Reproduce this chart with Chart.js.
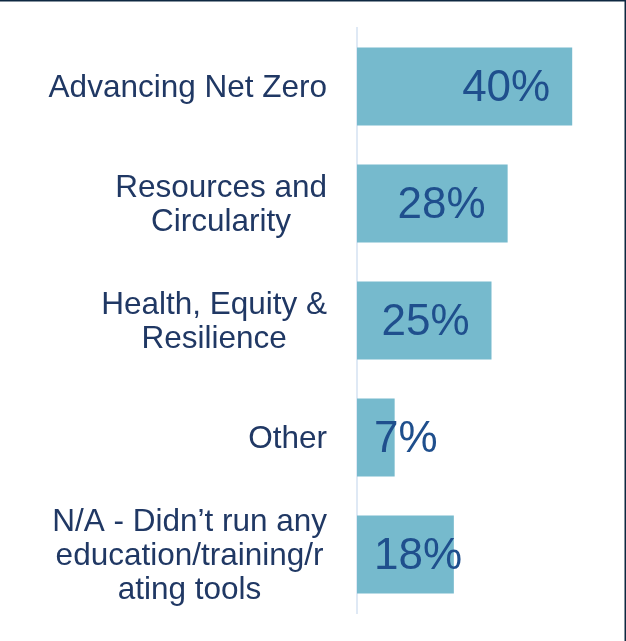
<!DOCTYPE html>
<html>
<head>
<meta charset="utf-8">
<script src="https://cdn.jsdelivr.net/npm/chart.js@4.4.1/dist/chart.umd.min.js"></script>
<style>
  html, body { margin: 0; padding: 0; background: #ffffff; }
  #wrap { position: relative; width: 626px; height: 641px; }
</style>
</head>
<body>
<div id="wrap"><canvas id="c" width="626" height="641"></canvas></div>
<script>
const categories = [
  ["Advancing Net Zero"],
  ["Resources and", "Circularity"],
  ["Health, Equity &", "Resilience"],
  ["Other"],
  ["N/A - Didn\u2019t run any", "education/training/r", "ating tools"]
];
const values = [40, 28, 25, 7, 18];
const valueLabels = ["40%", "28%", "25%", "7%", "18%"];

const FONT = "'Liberation Sans', Arial, sans-serif";

const valueLabelPlugin = {
  id: 'valueLabels',
  afterDatasetsDraw(chart) {
    const ctx = chart.ctx;
    const meta = chart.getDatasetMeta(0);
    ctx.save();
    ctx.font = "44px " + FONT;
    ctx.fillStyle = "#1F4F8D";
    ctx.textAlign = "left";
    ctx.textBaseline = "middle";
    meta.data.forEach((bar, i) => {
      const t = valueLabels[i];
      const w = ctx.measureText(t).width;
      const x = Math.max(bar.x - 22 - w, bar.base + 17);
      ctx.fillText(t, x, bar.y + 2);
    });
    ctx.restore();
  }
};

// Category labels: each block right-aligned to the axis, lines centred within the block
const categoryLabelPlugin = {
  id: 'categoryLabels',
  afterDraw(chart) {
    const ctx = chart.ctx;
    const yScale = chart.scales.y;
    const size = 31.5, lineH = 34, pad = 30;
    ctx.save();
    ctx.font = size + "px " + FONT;
    ctx.fillStyle = "#203864";
    ctx.textAlign = "center";
    ctx.textBaseline = "middle";
    const rightX = yScale.right - pad;
    categories.forEach((lines, i) => {
      const yc = yScale.getPixelForValue(i) + 2;
      const W = Math.max(...lines.map(l => ctx.measureText(l).width));
      const cx = rightX - W / 2;
      lines.forEach((l, k) => {
        ctx.fillText(l, cx, yc + (k - (lines.length - 1) / 2) * lineH);
      });
    });
    ctx.restore();
  }
};

const framePlugin = {
  id: 'frame',
  afterDraw(chart) {
    const ctx = chart.ctx;
    ctx.save();
    ctx.strokeStyle = "#0E2841";
    ctx.lineWidth = 1.5;
    ctx.beginPath();
    ctx.moveTo(0, 0.75);
    ctx.lineTo(625.25, 0.75);
    ctx.lineTo(625.25, chart.height);
    ctx.stroke();
    ctx.restore();
  }
};

new Chart(document.getElementById('c'), {
  type: 'bar',
  data: {
    labels: categories,
    datasets: [{
      data: values,
      backgroundColor: "#76BACD",
      borderWidth: 0,
      barPercentage: 0.667,
      categoryPercentage: 1.0
    }]
  },
  options: {
    indexAxis: 'y',
    responsive: false,
    animation: false,
    devicePixelRatio: 1,
    layout: { padding: { top: 28, bottom: 28, left: 0, right: 0 } },
    plugins: {
      legend: { display: false },
      tooltip: { enabled: false }
    },
    scales: {
      x: {
        display: false,
        min: 0,
        max: 50
      },
      y: {
        afterFit(scale) {
          scale.width = 357;
          scale.paddingTop = 0;
          scale.paddingBottom = 0;
        },
        grid: { display: false, drawTicks: false },
        border: { display: true, color: "#DFE9F5", width: 2 },
        ticks: { display: false }
      }
    }
  },
  plugins: [valueLabelPlugin, categoryLabelPlugin, framePlugin]
});
</script>
</body>
</html>
